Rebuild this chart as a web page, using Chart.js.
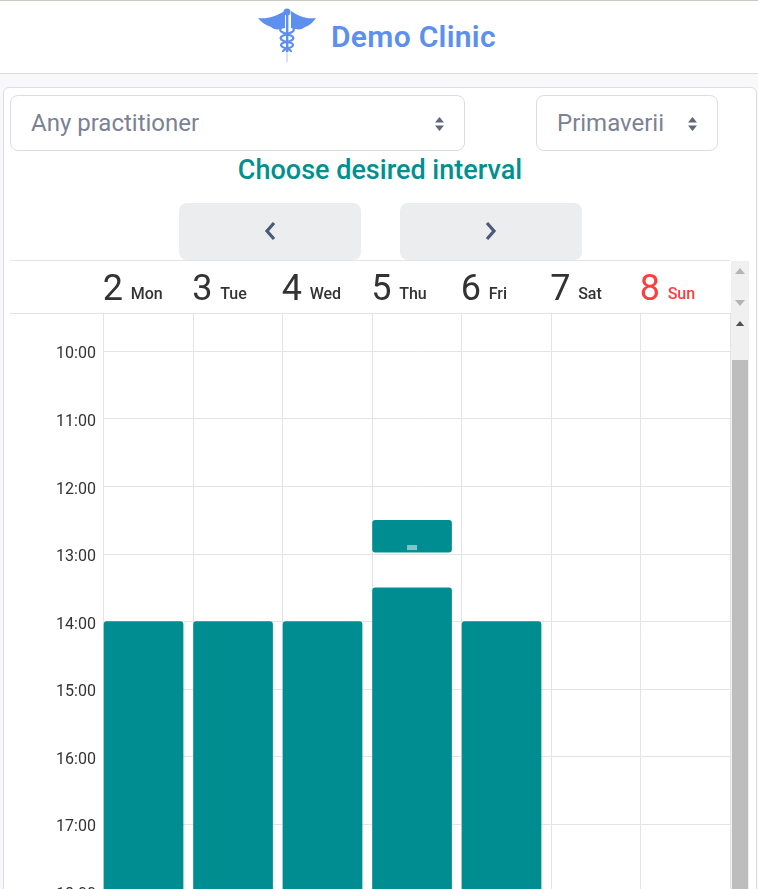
<!DOCTYPE html>
<html>
<head>
<meta charset="utf-8">
<title>Demo Clinic</title>
<script src="https://cdn.jsdelivr.net/npm/chart.js@4"></script>
<style>
html, body { margin: 0; padding: 0; width: 758px; height: 889px; overflow: hidden; background: #f8f8fa; font-family: Roboto, sans-serif; }
.abs { position: absolute; box-sizing: border-box; }
#top { left: 0; top: 0; width: 758px; height: 74px; background: #fff; border-top: 1px solid #c9c9c5; border-bottom: 1px solid #dcdcdc; }
#brand { left: 331px; top: 17px; font: 600 30px/40px Roboto, sans-serif; color: #5c8fee; letter-spacing: .3px; white-space: nowrap; }
#card { left: 3px; top: 87px; width: 754px; height: 830px; background: #fff; border: 1px solid #dcdde3; border-radius: 6px; }
.select { top: 95px; height: 56px; border: 1px solid #dcdde3; border-radius: 8px; background: #fff; color: #7b8294; font-size: 24px; line-height: 54px; padding-left: 20px; }
.updown { top: 116px; }
h1 { margin: 0; left: 0; top: 154px; width: 760px; text-align: center; font: 500 27px/32px Roboto, sans-serif; color: #00908f; }
.pager { top: 203px; width: 182px; height: 57px; background: #ecedef; border-radius: 8px; }
.pager svg { position: absolute; left: 83px; top: 18px; }
.line { left: 10px; width: 720px; height: 1px; background: #e4e4e4; }
.track { left: 731px; width: 18px; background: #f0f0f0; }
.thumb { left: 732px; top: 360px; width: 16px; height: 560px; background: #bdbdbd; }
#chart { left: 0; top: 261px; }
</style>
</head>
<body>
<div class="abs" id="top"></div>
<svg class="abs" style="left:258px;top:8px" width="60" height="56" viewBox="0 0 60 56">
  <g fill="#5c8fee">
    <path d="M0 10 C10 11 16 9 27 3 L27 20 C20 22 16 22 13 19 C7 17 3 14 0 10Z"/>
    <path d="M58 10 C48 11 42 9 33 3 L33 20 C40 22 44 22 47 19 C53 17 55 14 58 10Z"/>
    <circle cx="29" cy="4" r="3.5"/>
    <rect x="28" y="4" width="2.4" height="40"/>
  </g>
  <path d="M29 44 L29 54" stroke="#c7d8f8" stroke-width="1.5"/>
  <path d="M23 20 C18 26 38 26 35 31 C33 35 23 33 23 37 C23 41 34 40 33 44 M35 20 C40 26 20 26 23 31 C25 35 35 33 35 37 C35 41 24 40 25 44" fill="none" stroke="#5c8fee" stroke-width="2.2"/>
</svg>
<div class="abs" id="brand">Demo Clinic</div>

<div class="abs" id="card"></div>
<div class="abs select" style="left:10px;width:455px">Any practitioner</div>
<div class="abs select" style="left:536px;width:182px">Primaverii</div>
<svg class="abs updown" style="left:434px" width="11" height="16"><path d="M5.5 1 L10 6.5 H1Z M5.5 15 L10 9.5 H1Z" fill="#5f6779"/></svg>
<svg class="abs updown" style="left:687px" width="11" height="16"><path d="M5.5 1 L10 6.5 H1Z M5.5 15 L10 9.5 H1Z" fill="#5f6779"/></svg>
<h1 class="abs">Choose desired interval</h1>
<div class="abs pager" style="left:179px"><svg width="16" height="20"><path d="M12 2 L5 10 L12 18" fill="none" stroke="#4a5a7a" stroke-width="3.2"/></svg></div>
<div class="abs pager" style="left:400px"><svg width="16" height="20"><path d="M4 2 L11 10 L4 18" fill="none" stroke="#4a5a7a" stroke-width="3.2"/></svg></div>

<canvas class="abs" id="chart" width="731" height="716"></canvas>

<div class="abs line" style="top:260px"></div>
<div class="abs line" style="top:313px"></div>
<div class="abs track" style="top:261px;height:53px"></div>
<div class="abs track" style="top:314px;height:600px"></div>
<div class="abs thumb"></div>
<svg class="abs" style="left:734px;top:266px" width="12" height="60">
  <path d="M6 2 L11 8 H1Z M6 40 L11 34 H1Z" fill="#b4b4b4"/>
  <path d="M6 55 L11 61 H1Z" fill="#505050"/>
</svg>

<script>
const dayNumbers = ['2', '3', '4', '5', '6', '7', '8']
const dayNames = ['Mon', 'Tue', 'Wed', 'Thu', 'Fri', 'Sat', 'Sun']

// [start hour, end hour]; the end of the long ones is below the fold
const shortSlots = [null, null, null, [12.5, 12.97], null, null, null]
const longSlots = [[14, 18.5], [14, 18.5], [14, 18.5], [13.5, 18.5], [14, 18.5], null, null]

const firstHour = 9.431
const lastHour = 19

const slotColor = '#008d91'
const gridColor = '#e4e4e4'
const sundayColor = '#ff3d3d'
const textColor = '#333333'

// the site draws each slot flush left in its day column
const leftShift = 5.1

const shiftBars = {
	id: 'shiftBars',
	beforeDatasetsDraw(chart) {
		chart.ctx.save()
		chart.ctx.translate(-leftShift, 0)
	},
	afterDatasetsDraw(chart) {
		chart.ctx.restore()
	}
}

const dayHeader = {
	id: 'dayHeader',
	afterDraw(chart) {
		const ctx = chart.ctx
		const x = chart.scales.x
		ctx.save()
		ctx.textBaseline = 'alphabetic'
		dayNames.forEach(function(name, i) {
			const left = x.getPixelForValue(i) - 46
			ctx.fillStyle = name === 'Sun' ? sundayColor : textColor
			ctx.font = '400 36px Roboto'
			ctx.fillText(dayNumbers[i], left, 39)
			ctx.font = '500 16px Roboto'
			ctx.fillText(name, left + 28, 38)
		})
		ctx.restore()
	}
}

// little grip on the short slot
const grip = {
	id: 'grip',
	afterDatasetsDraw(chart) {
		const bar = chart.getDatasetMeta(0).data[3]
		const ctx = chart.ctx
		ctx.save()
		ctx.fillStyle = 'rgba(255,255,255,.5)'
		ctx.fillRect(bar.x - leftShift - 5, Math.max(bar.y, bar.base) - 7, 10, 5)
		ctx.restore()
	}
}

new Chart(document.getElementById('chart'), {
	type: 'bar',
	data: {
		labels: dayNames,
		datasets: [
			{ label: 'Short', data: shortSlots, backgroundColor: slotColor },
			{ label: 'Long', data: longSlots, backgroundColor: slotColor }
		]
	},
	options: {
		responsive: false,
		animation: false,
		layout: { padding: { top: 52, left: 0, right: 0.6, bottom: 0 } },
		plugins: { legend: { display: false }, tooltip: { enabled: false } },
		datasets: {
			bar: {
				grouped: false,
				barThickness: 79,
				borderRadius: 3,
				borderSkipped: false
			}
		},
		scales: {
			x: {
				position: 'top',
				offset: true,
				ticks: { display: false },
				grid: { color: gridColor, offset: true, drawTicks: false },
				border: { color: gridColor }
			},
			y: {
				reverse: true,
				min: firstHour,
				max: lastHour,
				afterBuildTicks(scale) {
					scale.ticks = scale.ticks.filter(function(t) { return Number.isInteger(t.value) })
				},
				afterFit(scale) {
					scale.width = 103.9
				},
				ticks: {
					stepSize: 1,
					padding: 8,
					labelOffset: 3,
					color: textColor,
					font: { family: 'Roboto', size: 16 },
					callback: function(v) { return v + ':00' }
				},
				grid: { color: gridColor, drawTicks: false },
				border: { color: gridColor }
			}
		}
	},
	plugins: [shiftBars, grip, dayHeader]
})
</script>
</body>
</html>
